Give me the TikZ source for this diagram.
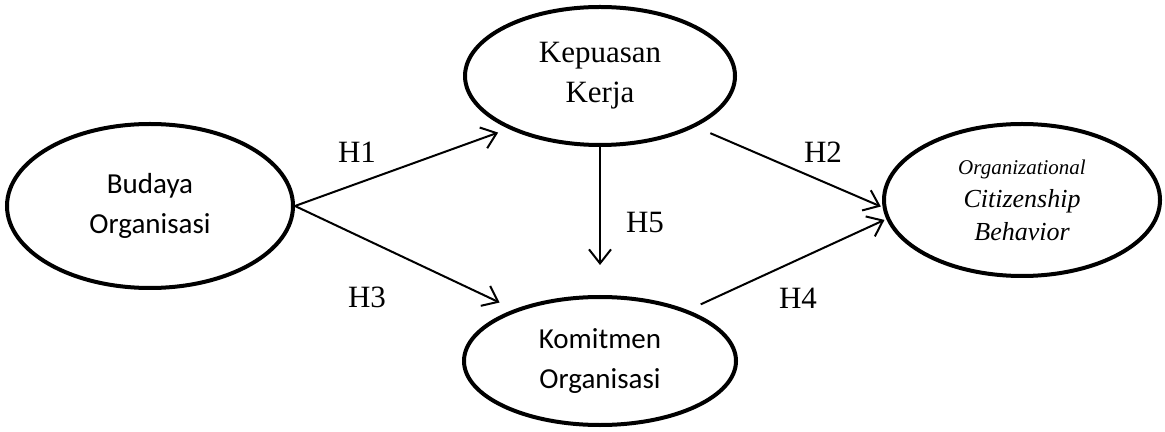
\documentclass[tikz,border=0pt]{standalone}
\usepackage{fontspec}
\setmainfont{Liberation Serif}
\newfontfamily\calibri{Carlito}
\usepackage{tikz}
\usetikzlibrary{arrows.meta,shapes.geometric}

\begin{document}
\begin{tikzpicture}[x=0.5pt,y=-0.5pt]
            \useasboundingbox (0,0) rectangle (1165,432);

            \begin{scope}[every node/.style={ellipse,draw,line width=2pt,inner sep=0pt,align=center}]
                \node[minimum width=143pt,minimum height=82pt,font=\calibri\fontsize{14.5}{20}\selectfont]
                    (budaya) at (150,206) {Budaya\\Organisasi};
                \node[minimum width=135pt,minimum height=69pt,font=\fontsize{15.5}{20}\selectfont]
                    (kepuasan) at (600,76) {Kepuasan\\Kerja};
                \node[minimum width=136pt,minimum height=64pt,font=\calibri\fontsize{14.5}{20}\selectfont]
                    (komitmen) at (600,361) {Komitmen\\Organisasi};
                \node[minimum width=138pt,minimum height=76pt,font=\itshape\fontsize{13}{16.5}\selectfont]
                    (ocb) at (1022,200) {{\fontsize{10.5}{16.5}\selectfont Organizational}\\Citizenship\\Behavior};
            \end{scope}

            \begin{scope}[>={Straight Barb[length=7pt,width=11pt]},
                          every node/.style={font=\fontsize{15.5}{18}\selectfont},
                          every path/.style={line width=1pt}]
                \draw [->,shorten >=5.5pt] (budaya.east) -- (kepuasan.210.5);
                \draw [->,shorten >=8pt] (budaya.east) -- (komitmen.149.9);
                \draw [->,shorten <=8pt,shorten >=1pt] (kepuasan.-28.9) -- (ocb.183.3);
                \draw [->,shorten <=7pt,shorten >=1pt] (komitmen.30.9) -- (ocb.188.9);
                \draw [->,shorten >=15pt] (kepuasan.south) -- (komitmen.north);

                \node (h1) at (357,152) {H1};
                \node (h2) at (823,152) {H2};
                \node (h3) at (367,297) {H3};
                \node (h4) at (798,298) {H4};
                \node (h5) at (645,223) {H5};
            \end{scope}
\end{tikzpicture}
\end{document}
